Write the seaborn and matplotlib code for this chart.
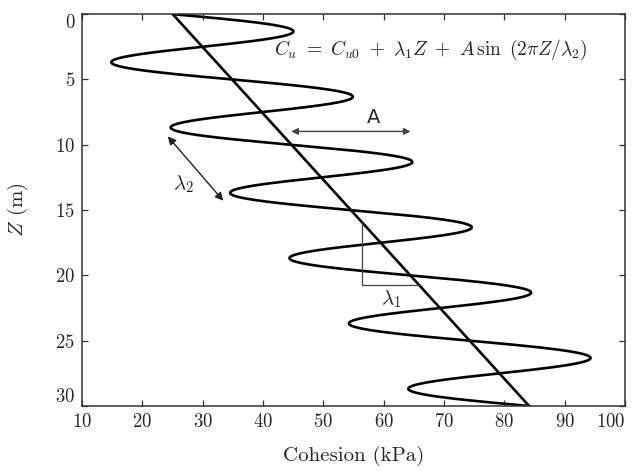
import numpy as np
import pandas as pd
import matplotlib
matplotlib.use("Agg")
import matplotlib.pyplot as plt
import seaborn as sns

# model parameters
cu0 = 25.0      # kPa at Z = 0
lam1 = 1.97     # kPa per m
amp = 17.5      # kPa
lam2 = 5.0      # m
z_max = 30.0

x_ticks = [10, 20, 30, 40, 50, 60, 70, 80, 90, 100]
y_ticks = [0, 5, 10, 15, 20, 25, 30]

depth = np.linspace(0, z_max, 1200)
curve = pd.DataFrame({"Z": depth,
                      "Cu": cu0 + lam1 * depth + amp * np.sin(2 * np.pi * depth / lam2)})
trend = pd.DataFrame({"Z": [0, z_max], "Cu": [cu0, cu0 + lam1 * z_max]})

sns.set_style("ticks")
plt.rcParams["font.family"] = "serif"
plt.rcParams["font.serif"] = ["cmr10", "DejaVu Serif"]
plt.rcParams["mathtext.fontset"] = "cm"
plt.rcParams["axes.formatter.use_mathtext"] = True

fig = plt.figure(figsize=(6.32, 4.71), dpi=100)
ax = fig.add_axes([0.130, 0.138, 0.859, 0.832])

sns.lineplot(data=curve, x="Cu", y="Z", sort=False, estimator=None, orient="y",
             color="black", lw=1.9, ax=ax)
sns.lineplot(data=trend, x="Cu", y="Z", sort=False, estimator=None, orient="y",
             color="black", lw=1.9, ax=ax)

ax.set_xlim(10, 100)
ax.set_ylim(z_max, 0)
ax.set_xticks(x_ticks)
ax.set_yticks(y_ticks)
ax.tick_params(direction="in", top=True, right=True, labeltop=False, labelright=False,
               length=4, width=0.9, labelsize=13.5, pad=5, color="#333333")
for sp in ax.spines.values():
    sp.set_linewidth(1.1)
    sp.set_color("#333333")

ax.set_xlabel("Cohesion (kPa)", fontsize=15, labelpad=11)
ax.set_ylabel("$Z$ (m)", fontsize=15, labelpad=18)

# annotations
ax.text(41.8, 2.75,
        r"$C_u\ =\ C_{u0}\ +\ \lambda_1 Z\ +\ A\,\sin\ (2\pi Z/\lambda_2)$",
        fontsize=14, va="center", ha="left")
ax.annotate("", xy=(44.2, 8.98), xytext=(64.9, 8.98),
            arrowprops=dict(arrowstyle="<|-|>", color="#444444", lw=1.0,
                            mutation_scale=10))
ax.text(58.3, 7.9, "A", family="DejaVu Sans", fontsize=14, ha="center", va="center")
ax.annotate("", xy=(23.9, 9.2), xytext=(33.7, 14.45),
            arrowprops=dict(arrowstyle="<|-|>", color="#222222", lw=1.0,
                            mutation_scale=12))
ax.text(26.7, 13.0, r"$\lambda_2$", fontsize=15, ha="center", va="center")
ax.plot([56.4, 56.4, 65.8], [15.9, 20.7, 20.7], color="#444444", lw=0.9)
ax.text(61.3, 21.8, r"$\lambda_1$", fontsize=15, ha="center", va="center")

fig.canvas.draw()
ylabels = ax.get_yticklabels()
ylabels[0].set_va("top")
ylabels[-1].set_va("bottom")
ax.get_xticklabels()[-1].set_ha("right")

fig.savefig("out.png", dpi=100)
